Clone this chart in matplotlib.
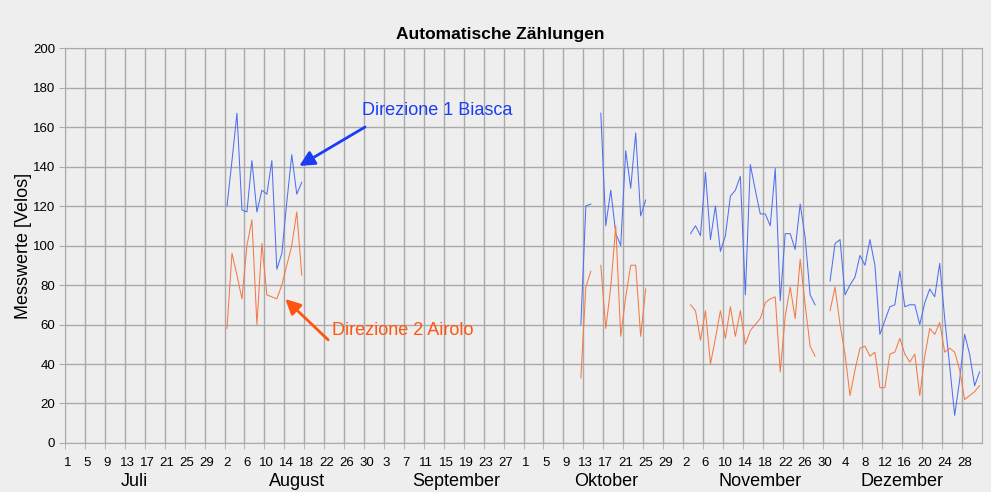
import matplotlib
matplotlib.use("Agg")
import matplotlib.pyplot as plt
import numpy as np
import datetime as dt

plt.rcParams['font.family'] = ['Liberation Sans', 'DejaVu Sans']

start = dt.date(2024, 7, 1)
end = dt.date(2024, 12, 31)

months = ["Juli", "August", "September", "Oktober", "November", "Dezember"]
month_pos = [13.5, 46.0, 78.0, 108.0, 139.0, 167.5]

# measured segments: (first day, values direction 1, values direction 2)
aug_start = dt.date(2024, 8, 2)
aug_biasca = [120, 143, 167, 118, 117, 143, 117, 128, 126, 143, 88, 96, 122, 146, 126, 132]
aug_airolo = [58, 96, 85, 73, 100, 113, 60, 101, 75, 74, 73, 80, 90, 100, 117, 85]

oct_start = dt.date(2024, 10, 12)
oct_biasca = [60, 120, 121, np.nan, 167, 110, 128, 106, 100, 148, 129, 157, 115, 123]
oct_airolo = [33, 79, 87, np.nan, 90, 58, 79, 110, 54, 74, 90, 90, 54, 78]

nov_start = dt.date(2024, 11, 3)
nov_biasca = [106, 110, 105, 137, 103, 120, 97, 105, 125, 128, 135, 75, 141, 128, 116, 116,
              110, 139, 72, 106, 106, 98, 121, 104, 75, 70]
nov_airolo = [70, 67, 52, 67, 40, 53, 67, 53, 69, 54, 67, 50, 57, 60, 63, 71,
              73, 74, 36, 64, 79, 63, 93, 70, 49, 44]

dec_start = dt.date(2024, 12, 1)
dec_biasca = [82, 101, 103, 75, 80, 84, 95, 90, 103, 90, 55, 62, 69, 70, 87, 69,
              70, 70, 60, 71, 78, 74, 91, 63, 39, 14, 32, 55, 45, 29, 36]
dec_airolo = [67, 79, 60, 45, 24, 37, 48, 49, 44, 46, 28, 28, 45, 46, 53, 45,
              41, 45, 24, 44, 58, 55, 61, 46, 48, 46, 37, 22, 24, 26, 29]

ndays = (end - start).days + 1
biasca = np.full(ndays, np.nan)
airolo = np.full(ndays, np.nan)
for d0, b, a in [(aug_start, aug_biasca, aug_airolo), (oct_start, oct_biasca, oct_airolo),
                 (nov_start, nov_biasca, nov_airolo), (dec_start, dec_biasca, dec_airolo)]:
    i0 = (d0 - start).days
    biasca[i0:i0 + len(b)] = b
    airolo[i0:i0 + len(a)] = a

days = np.arange(ndays)
dates = [start + dt.timedelta(days=int(i)) for i in days]

bg = '#eeeeee'
grid = '#aaaaaa'
fig = plt.figure(figsize=(9.91, 4.92), dpi=100, facecolor=bg)
ax = fig.add_axes([0.0656, 0.0996, 0.9254, 0.8028], facecolor=bg)

ax.plot(days, biasca, color='#4f70f0', lw=0.75)
ax.plot(days, airolo, color='#f47a45', lw=0.75)

ax.set_xlim(-0.5, ndays - 0.5)
ax.set_ylim(0, 200)
ax.set_yticks(np.arange(0, 201, 20))
tick_idx = np.arange(0, ndays - 2, 4)
ax.set_xticks(tick_idx)
ax.set_xticklabels([str(dates[i].day) for i in tick_idx], fontsize=9.5)
ax.set_xticks(tick_idx - 0.5, minor=True)
ax.tick_params(axis='x', which='major', length=0, pad=10)
ax.tick_params(axis='x', which='minor', length=4, color=grid, direction='out')
ax.tick_params(axis='y', labelsize=9.5, length=4, color=grid, pad=3)
ax.grid(True, axis='y', color=grid, lw=1)
ax.grid(True, axis='x', which='minor', color=grid, lw=1)
for s in ax.spines.values():
    s.set_color(grid)
ax.set_axisbelow(True)

for m, p in zip(months, month_pos):
    ax.text(p, -0.097, m, transform=ax.get_xaxis_transform(), ha='center', va='center', fontsize=13)

fig.text(0.505, 0.929, "Automatische Zählungen", fontsize=12.5, fontweight='bold', ha='center', va='center')
ax.set_ylabel("Messwerte [Velos]", fontsize=13, labelpad=1)

blue_c = '#1a3cf5'
orange_c = '#ff5511'
ax.text(74.2, 168.6, "Direzione 1 Biasca", color=blue_c, fontsize=13, ha='center', va='center')
ax.annotate("", xy=(46.5, 140.3), xytext=(59.7, 160),
            arrowprops=dict(arrowstyle='-|>,head_length=0.9,head_width=0.45', color=blue_c,
                            lw=2, shrinkA=0, shrinkB=0))
ax.text(67.2, 57.2, "Direzione 2 Airolo", color=orange_c, fontsize=13, ha='center', va='center')
ax.annotate("", xy=(43.7, 72.9), xytext=(52.3, 52.2),
            arrowprops=dict(arrowstyle='-|>,head_length=0.9,head_width=0.45', color=orange_c,
                            lw=2, shrinkA=0, shrinkB=0))

fig.savefig("out.png", dpi=100, facecolor=bg)
